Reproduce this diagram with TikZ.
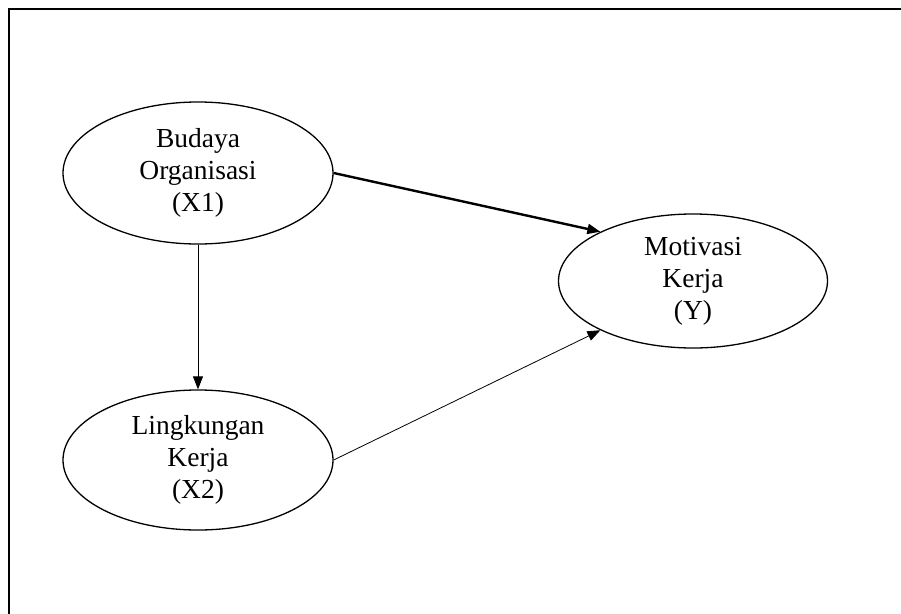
\documentclass[tikz,border=0pt]{standalone}
\usepackage{fontspec}
\setmainfont{Liberation Serif}
\usetikzlibrary{shapes.geometric,arrows.meta}
\begin{document}
\begin{tikzpicture}[x=1pt,y=-1pt,
  var/.style={draw, ellipse, line width=1.3pt, minimum width=270pt, minimum height=142pt,
    inner sep=0pt, align=center, font=\fontsize{27.5}{32}\selectfont},
  boldlink/.style={line width=2.4pt, -{Triangle[length=13pt,width=10pt]}},
  finelink/.style={line width=0.8pt, -{Triangle[length=13pt,width=10pt]}}]
\useasboundingbox (0,0) rectangle (901,613);
\clip (0,0) rectangle (901,613);
\draw[line width=1.5pt] (9,9) rectangle (930,650);
\node[var] (x1) at (198,173) {Budaya\\Organisasi\\(X1)};
\node[var, minimum height=140pt] (x2) at (198,460) {Lingkungan\\Kerja\\(X2)};
\node[var, minimum width=269pt, minimum height=134pt] (y) at (693,281) {Motivasi\\Kerja\\(Y)};
\draw[boldlink] (x1.east) -- (y.152);
\draw[finelink] (x1.south) -- (x2.north);
\draw[finelink] (x2.east) -- (y.208);
\end{tikzpicture}
\end{document}
